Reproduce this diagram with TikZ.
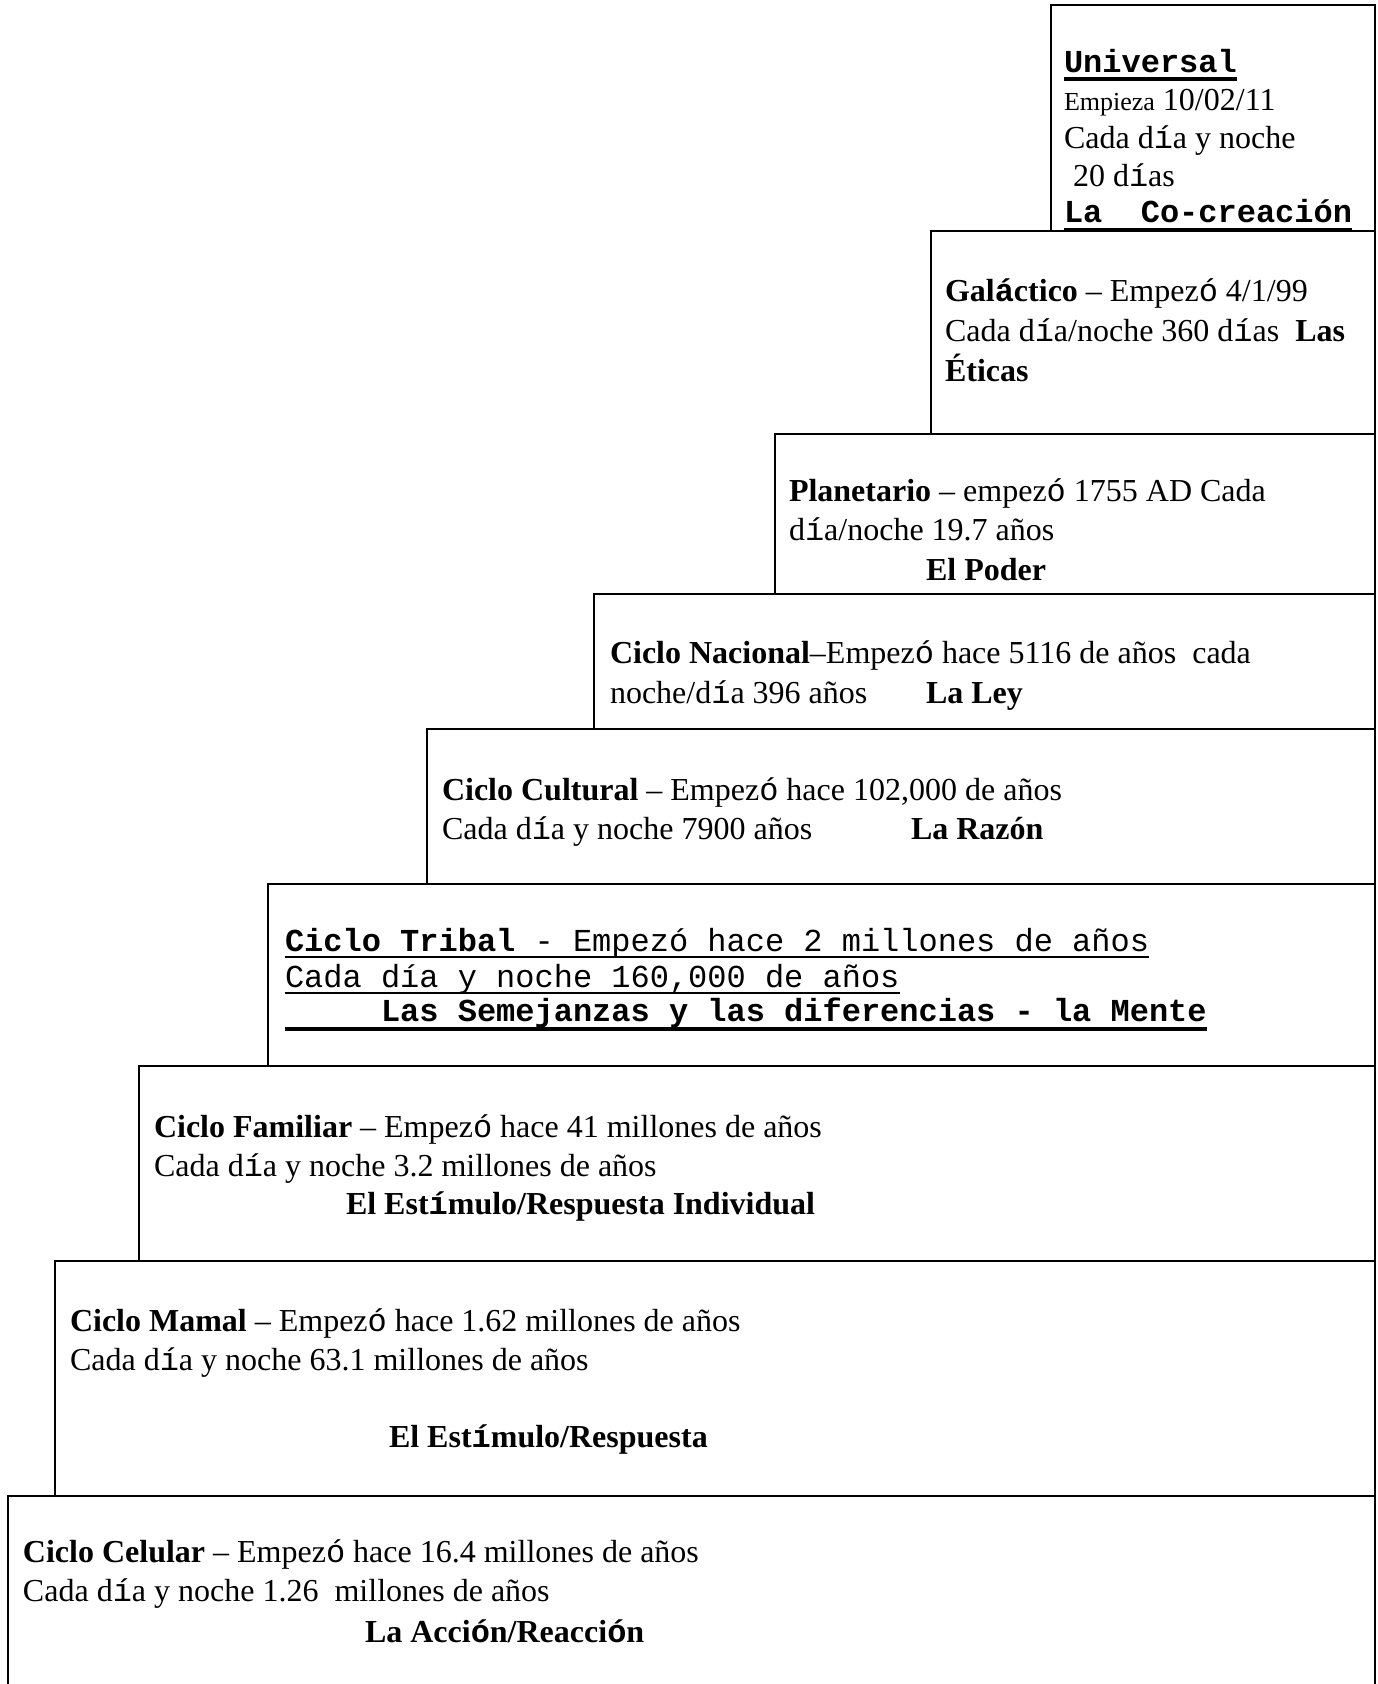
\documentclass[tikz,border=0pt]{standalone}
\usepackage{fontspec}
\setmainfont{Liberation Serif}
\setmonofont{Liberation Mono}
\newcommand\mo[1]{{\ttfamily #1}}
\begin{document}
\begin{tikzpicture}[x=1pt,y=-1pt,
  box/.style={draw=black,line width=2.4pt},
  txt/.style={anchor=base west,inner sep=0pt,outer sep=0pt,font=\fontsize{32}{37}\selectfont},
  ttxt/.style={anchor=base west,inner sep=0pt,outer sep=0pt,font=\fontsize{32}{37}\selectfont\ttfamily},
  ul/.style={line width=2pt},
  ulb/.style={line width=3.6pt}]
\useasboundingbox (0,0) rectangle (1378,1684);
\clip (0,0) rectangle (1378,1684);
% boxes
\draw[box] (1051,5) rectangle (1375,231);
\draw[box] (931,231) rectangle (1375,434);
\draw[box] (775,434) rectangle (1375,594);
\draw[box] (594,594) rectangle (1375,729);
\draw[box] (427,729) rectangle (1375,884);
\draw[box] (268,884) rectangle (1375,1066);
\draw[box] (139,1066) rectangle (1375,1261);
\draw[box] (55,1261) rectangle (1375,1496);
\draw[box] (8,1496) rectangle (1375,1760);
\begin{scope}[yshift=-3pt]
% Universal
\node[ttxt,font=\fontsize{32}{37}\selectfont\ttfamily\bfseries] (u1) at (1064,69) {Universal};
\node[txt] (u2) at (1064,107) {{\fontsize{26}{30}\selectfont Empieza} 10/02/11};
\node[txt] (u3) at (1064,145) {Cada d\mo{í}a y noche};
\node[txt] (u4) at (1064,183) {\hspace*{9pt}20 d\mo{í}as};
\node[ttxt,font=\fontsize{32}{37}\selectfont\ttfamily\bfseries] (u5) at (1064,219) {La\ \ Co-creación};
\draw[ulb] ([yshift=-7pt]u1.base west) -- ([yshift=-7pt]u1.base east);
\draw[ulb] ([yshift=-8pt]u5.base west) -- ([yshift=-8pt]u5.base east);
% Galactico
\node[txt] (g1) at (945,298) {\textbf{Gal\mo{á}ctico} – Empez\mo{ó} 4/1/99};
\node[txt] (g2) at (945,338) {Cada d\mo{í}a/noche 360 d\mo{í}as\ \ \textbf{Las}};
\node[txt] (g3) at (945,378) {\textbf{Éticas}};
% Planetario
\node[txt] (p1) at (789,498) {\textbf{Planetario} – empez\mo{ó} 1755 AD Cada};
\node[txt] (p2) at (789,537) {d\mo{í}a/noche 19.7 años};
\node[txt] (p3) at (926,577) {\textbf{El Poder}};
% Nacional
\node[txt] (n1) at (610,660) {\textbf{Ciclo Nacional}–Empez\mo{ó} hace 5116 de años\ \ cada};
\node[txt] (n2) at (610,700) {noche/d\mo{í}a 396 años};
\node[txt] (n3) at (926,700) {\textbf{La Ley}};
% Cultural
\node[txt] (c1) at (442,797) {\textbf{Ciclo Cultural} – Empez\mo{ó} hace 102,000 de años};
\node[txt] (c2) at (442,836) {Cada d\mo{í}a y noche 7900 años};
\node[txt] (c3) at (911,836) {\textbf{La Razón}};
% Tribal
\node[ttxt] (t1) at (285,948) {\textbf{Ciclo Tribal} - Empezó hace 2 millones de años};
\node[ttxt] (t2) at (285,984) {Cada día y noche 160,000 de años};
\node[ttxt,font=\fontsize{32}{37}\selectfont\ttfamily\bfseries] (t3) at (285,1018) {\hphantom{xxxxx}Las Semejanzas y las diferencias - la Mente};
\draw[ul] ([yshift=-6pt]t1.base west) -- ([yshift=-6pt]t1.base east);
\draw[ul] ([yshift=-6pt]t2.base west) -- ([yshift=-6pt]t2.base east);
\draw[ulb] ([yshift=-8pt]t3.base west) -- ([yshift=-8pt]t3.base east);
% Familiar
\node[txt] (f1) at (154,1134) {\textbf{Ciclo Familiar} – Empez\mo{ó} hace 41 millones de años};
\node[txt] (f2) at (154,1173) {Cada d\mo{í}a y noche 3.2 millones de años};
\node[txt] (f3) at (346,1211) {\textbf{El Est\mo{í}mulo/Respuesta Individual}};
% Mamal
\node[txt] (m1) at (70,1328) {\textbf{Ciclo Mamal} – Empez\mo{ó} hace 1.62 millones de años};
\node[txt] (m2) at (70,1367) {Cada d\mo{í}a y noche 63.1 millones de años};
\node[txt] (m3) at (389,1444) {\textbf{El Est\mo{í}mulo/Respuesta}};
% Celular
\node[txt] (e1) at (23,1559) {\textbf{Ciclo Celular} – Empez\mo{ó} hace 16.4 millones de años};
\node[txt] (e2) at (23,1598) {Cada d\mo{í}a y noche 1.26\ \ millones de años};
\node[txt] (e3) at (365,1639) {\textbf{La Acci\mo{ó}n/Reacci\mo{ó}n}};
\end{scope}
\end{tikzpicture}
\end{document}
